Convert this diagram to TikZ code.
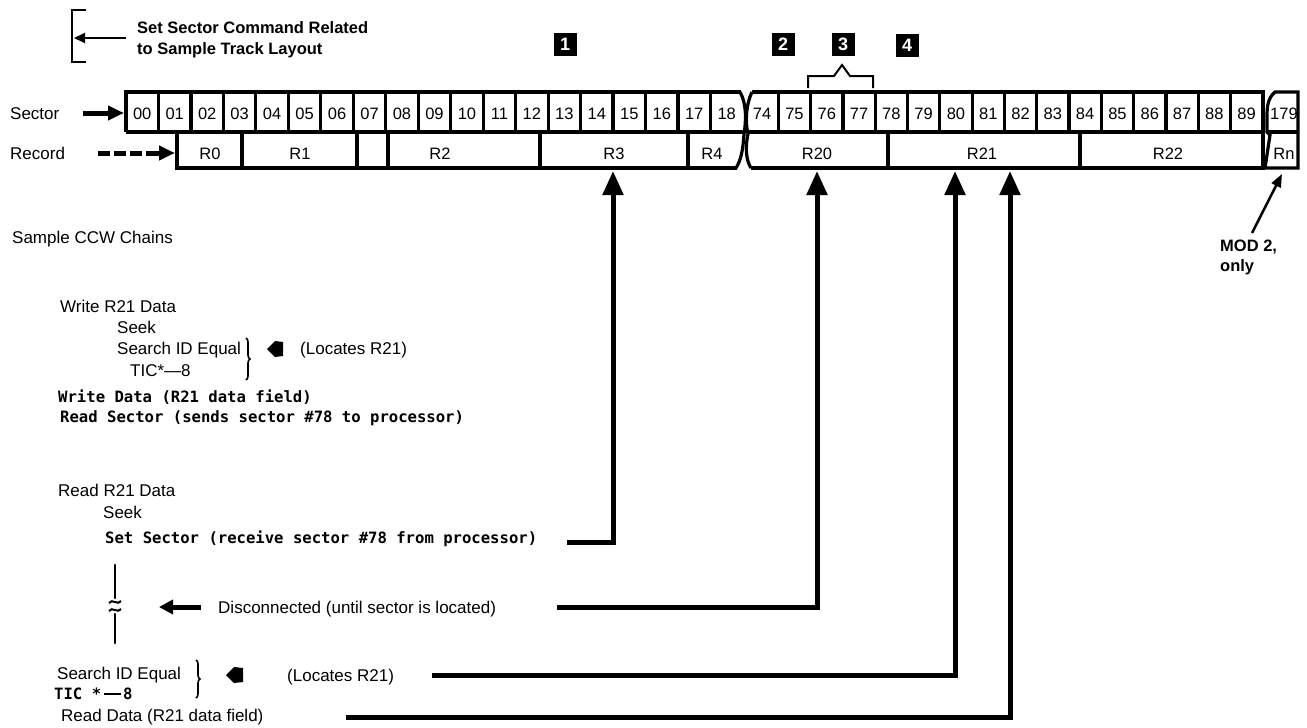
\documentclass[tikz,border=0pt]{standalone}
\usepackage{fontspec}
\setmainfont{Liberation Sans}
\newfontfamily\twfont{DejaVu Sans Mono}
\usetikzlibrary{arrows.meta,decorations.pathreplacing}
\begin{document}
\begin{tikzpicture}[x=1pt,y=-1pt,
  lbl/.style={font=\fontsize{17}{20}\selectfont,inner sep=0,anchor=base west,yshift=-6pt},
  lblb/.style={font=\bfseries\fontsize{16.5}{20}\selectfont,inner sep=0,anchor=base west,yshift=-6pt},
  tw/.style={font=\twfont\bfseries\fontsize{15.6}{18}\selectfont,inner sep=0,anchor=base west,yshift=-5.7pt},
  cellt/.style={font=\fontsize{16.5}{18}\selectfont,inner sep=0,anchor=base,yshift=-6pt},
  box/.style={line width=3.2pt},
  conn/.style={line width=5pt,-{Triangle[width=20pt,length=24pt]}},
  mk/.style={fill=black,text=white,font=\bfseries\fontsize{18}{18}\selectfont,minimum width=23pt,minimum height=23pt,inner sep=0},
  brc/.style={decorate,decoration={brace,amplitude=4pt},line width=1.6pt}
]
\useasboundingbox (0,0) rectangle (1307,728);

% title
\draw[line width=2.5pt] (86,10) -- (72,10) -- (72,62) -- (86,62);
\node[lblb] (t1) at (137,27) {Set Sector Command Related};
\node[lblb] (t2) at (137,48) {to Sample Track Layout};
\coordinate (tA) at (126,38);
\coordinate (tB) at (74,38);
\draw[line width=2pt,-{Triangle[width=10pt,length=11pt]}] (tA) -- (tB);

% markers
\node[mk] (m1) at (565,44) {1};
\node[mk] (m2) at (783,44) {2};
\node[mk] (m3) at (843,44) {3};
\node[mk] (m4) at (907,45) {4};
\draw[line width=2pt] (808,88) -- (808,76) -- (834,76) -- (842,65) -- (850,76) -- (873,76) -- (873,88);

% block 1 sectors
\draw[box] (126,132) -- (126,92) -- (741,92);
\draw[box] (126,132) -- (744,132);
\foreach \k in {1,...,18} \draw[box] ({126+32.47*\k},92) -- ({126+32.47*\k},132);
\foreach \n [count=\k from 0] in {00,01,02,03,04,05,06,07,08,09,10,11,12,13,14,15,16,17,18}
  \node[cellt] (s\n) at ({126+32.47*(\k+0.5)},113) {\n};
% block 1 records
\draw[box] (177,132) -- (177,168) -- (737,168);
\foreach \x in {242,357,388,540,688} \draw[box] (\x,132) -- (\x,168);
\draw[box] (740,92) .. controls (747,104) and (746,122) .. (744,134) .. controls (743,150) and (741,160) .. (736,168);
\node[cellt] (r0) at (210,153) {R0};
\node[cellt] (r1) at (300,153) {R1};
\node[cellt] (r2) at (440,153) {R2};
\node[cellt] (r3) at (614,153) {R3};
\node[cellt] (r4) at (712,153) {R4};

% block 2
\draw[box] (752,92) .. controls (746,104) and (745,122) .. (748,134) .. controls (745,148) and (746,160) .. (751,168);
\draw[box] (752,92) -- (1263,92) -- (1263,168) -- (751,168);
\draw[box] (748,132) -- (1263,132);
\foreach \k in {1,...,15} \draw[box] ({746+32.3*\k},92) -- ({746+32.3*\k},132);
\foreach \n [count=\k from 0] in {74,...,89}
  \node[cellt] (s\n) at ({746+32.3*(\k+0.5)},113) {\n};
\foreach \x in {888,1080} \draw[box] (\x,132) -- (\x,168);
\node[cellt] (r20) at (817,153) {R20};
\node[cellt] (r21) at (982,153) {R21};
\node[cellt] (r22) at (1168,153) {R22};

% block 3
\draw[box] (1275,92) .. controls (1268,98) and (1267,106) .. (1267,116) -- (1267,132) -- (1270,135) -- (1265,168) -- (1298,168) -- (1298,92) -- cycle;
\draw[box] (1267,132) -- (1298,132);
\node[cellt] (s179) at (1284,113) {179};
\node[cellt] (rn) at (1284,153) {Rn};

% row labels
\node[lbl] (seclbl) at (10,113) {Sector};
\node[lbl] (reclbl) at (10,153) {Record};
\coordinate (saS) at (83,113);
\coordinate (saE) at (124,113);
\draw[line width=5pt,-{Triangle[width=14pt,length=16pt]}] (saS) -- (saE);
\coordinate (raS) at (98,153);
\coordinate (raM) at (142,153);
\coordinate (raN) at (146,153);
\coordinate (raE) at (175,153);
\draw[line width=5pt,dash pattern=on 12pt off 4pt] (raS) -- (raM);
\draw[line width=5pt,-{Triangle[width=14pt,length=16pt]}] (raN) -- (raE);

% MOD 2
\node[lblb] (mod1) at (1220,245) {MOD 2,};
\node[lblb] (mod2) at (1220,265) {only};
\coordinate (modS) at (1252,233);
\coordinate (modE) at (1282,174);
\draw[line width=2.5pt,-{Triangle[width=10pt,length=13pt]}] (modS) -- (modE);

% chains
\node[lbl] (scc) at (12,237) {Sample CCW Chains};
\node[lbl] (w1) at (60,306) {Write R21 Data};
\node[lbl] (w2) at (117,327) {Seek};
\node[lbl] (w3) at (117,348) {Search ID Equal};
\node[lbl] (w4) at (130,370) {TIC*—8};
\draw[brc] (246,338) -- (246,380);
\fill (267,349) -- (275,341) -- (283,342) -- (283,356) -- (275,357) -- cycle;
\node[lbl] (loc1) at (300,348) {(Locates R21)};
\node[tw] (w5) at (58,397) {Write Data (R21 data field)};
\node[tw] (w6) at (60,417) {Read Sector (sends sector \#78 to processor)};

\node[lbl] (rd1) at (58,490) {Read R21 Data};
\node[lbl] (rd2) at (103,512) {Seek};
\node[tw] (rd3) at (105,538) {Set Sector (receive sector \#78 from processor)};
\draw[line width=2.5pt,line cap=round] (115,565) -- (115,598);
\draw[line width=2pt] (109,603) .. controls (112,598) and (118,606) .. (121,601);
\draw[line width=2pt] (109,611) .. controls (112,606) and (118,614) .. (121,609);
\draw[line width=2.5pt,line cap=round] (115,614) -- (115,643);
\coordinate (daS) at (201,607);
\coordinate (daE) at (159,607);
\draw[line width=5pt,-{Triangle[width=14pt,length=14pt]}] (daS) -- (daE);
\node[lbl] (dc) at (218,607) {Disconnected (until sector is located)};
\node[lbl] (rd4) at (57,673) {Search ID Equal};
\draw[brc] (196,660) -- (196,698);
\fill (226,675) -- (234,667) -- (243,668) -- (243,682) -- (234,683) -- cycle;
\node[lbl] (loc2) at (287,675) {(Locates R21)};
\node[tw] (rd5) at (54,694) {TIC *\kern3pt\rule[4.5pt]{17pt}{1.8pt}\kern2pt8};
\node[lbl] (rd6) at (61,715) {Read Data (R21 data field)};

% connectors
\coordinate (ssS) at (567,542);
\coordinate (dcS) at (557,607);
\coordinate (lcS) at (432,675);
\coordinate (rdS) at (346,717);
\coordinate (aR3) at (613,171);
\coordinate (aR20) at (817,171);
\coordinate (aR21a) at (955,171);
\coordinate (aR21b) at (1010,171);
\draw[conn] (ssS) -| (aR3);
\draw[conn] (dcS) -| (aR20);
\draw[conn] (lcS) -| (aR21a);
\draw[conn] (rdS) -| (aR21b);
\end{tikzpicture}
\end{document}
